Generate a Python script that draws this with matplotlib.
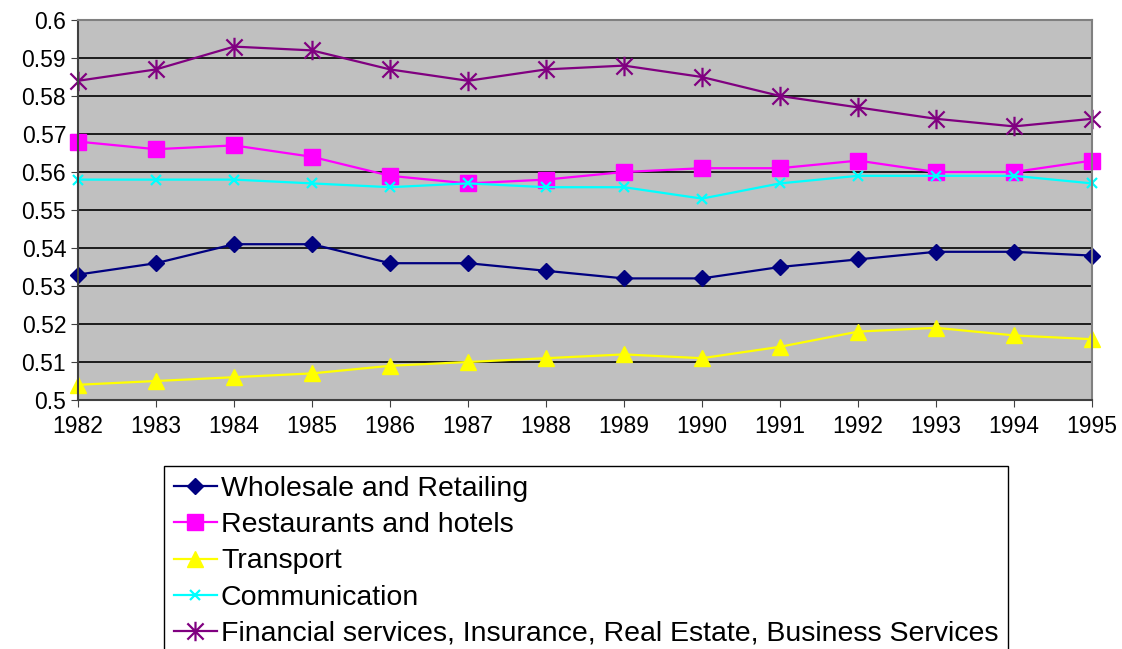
import numpy as np
import matplotlib
matplotlib.use('Agg')
import matplotlib.pyplot as plt
from matplotlib.path import Path
from matplotlib.ticker import FuncFormatter

plt.rcParams['font.family'] = ['Liberation Sans', 'DejaVu Sans']

# data
years = [1982, 1983, 1984, 1985, 1986, 1987, 1988, 1989, 1990, 1991, 1992, 1993, 1994, 1995]
wholesale = [0.533, 0.536, 0.541, 0.541, 0.536, 0.536, 0.534, 0.532, 0.532, 0.535, 0.537, 0.539, 0.539, 0.538]
restaurants = [0.568, 0.566, 0.567, 0.564, 0.559, 0.557, 0.558, 0.560, 0.561, 0.561, 0.563, 0.560, 0.560, 0.563]
transport = [0.504, 0.505, 0.506, 0.507, 0.509, 0.510, 0.511, 0.512, 0.511, 0.514, 0.518, 0.519, 0.517, 0.516]
communication = [0.558, 0.558, 0.558, 0.557, 0.556, 0.557, 0.556, 0.556, 0.553, 0.557, 0.559, 0.559, 0.559, 0.557]
financial = [0.584, 0.587, 0.593, 0.592, 0.587, 0.584, 0.587, 0.588, 0.585, 0.580, 0.577, 0.574, 0.572, 0.574]
labels = ['Wholesale and Retailing', 'Restaurants and hotels', 'Transport',
          'Communication', 'Financial services, Insurance, Real Estate, Business Services']

# excel style star: x plus a vertical bar
star = Path([(-0.5, -0.5), (0.5, 0.5), (-0.5, 0.5), (0.5, -0.5), (0, -0.6), (0, 0.6)],
            [Path.MOVETO, Path.LINETO, Path.MOVETO, Path.LINETO, Path.MOVETO, Path.LINETO])

fig = plt.figure(figsize=(11.22, 6.49), dpi=100)
ax = fig.add_axes([78/1122, 1-400/649, (1092-78)/1122, 380/649])
ax.set_facecolor('#C0C0C0')

ax.plot(years, wholesale, color='#000080', marker='D', ms=8, lw=1.6, label=labels[0], clip_on=False)
ax.plot(years, restaurants, color='#FF00FF', marker='s', ms=11, lw=1.6, label=labels[1], clip_on=False)
ax.plot(years, transport, color='#FFFF00', marker='^', ms=12, lw=1.6, label=labels[2], clip_on=False)
ax.plot(years, communication, color='#00FFFF', marker='x', ms=7, mew=1.6, lw=1.6, label=labels[3], clip_on=False)
ax.plot(years, financial, color='#800080', marker=star, ms=14, mew=1.6, mfc='none', lw=1.6,
        label=labels[4], clip_on=False)

ax.set_xlim(1982, 1995)
ax.set_ylim(0.5, 0.6)
ax.set_xticks(years)
ax.set_yticks(np.arange(0.5, 0.6001, 0.01))
ax.yaxis.set_major_formatter(FuncFormatter(lambda v, p: '%g' % round(v, 2)))
ax.grid(axis='y', color='black', lw=1.2)
ax.set_axisbelow(True)
ax.tick_params(labelsize=16.5, direction='out', length=5, color='#404040')
ax.tick_params(axis='x', pad=6)
for s in ['top', 'right']:
    ax.spines[s].set_color('#808080')
for s in ['left', 'bottom']:
    ax.spines[s].set_color('#404040')
for s in ax.spines.values():
    s.set_linewidth(1.5)

leg = fig.legend(loc='upper left', bbox_to_anchor=(164/1122, 1-466/649), fontsize=20.5,
                 frameon=True, fancybox=False, edgecolor='black', framealpha=1,
                 handlelength=1.5, handletextpad=0.15, labelspacing=0.36, borderpad=0.35,
                 borderaxespad=0)
leg.get_frame().set_linewidth(1.0)

fig.savefig('out.png', dpi=100)
